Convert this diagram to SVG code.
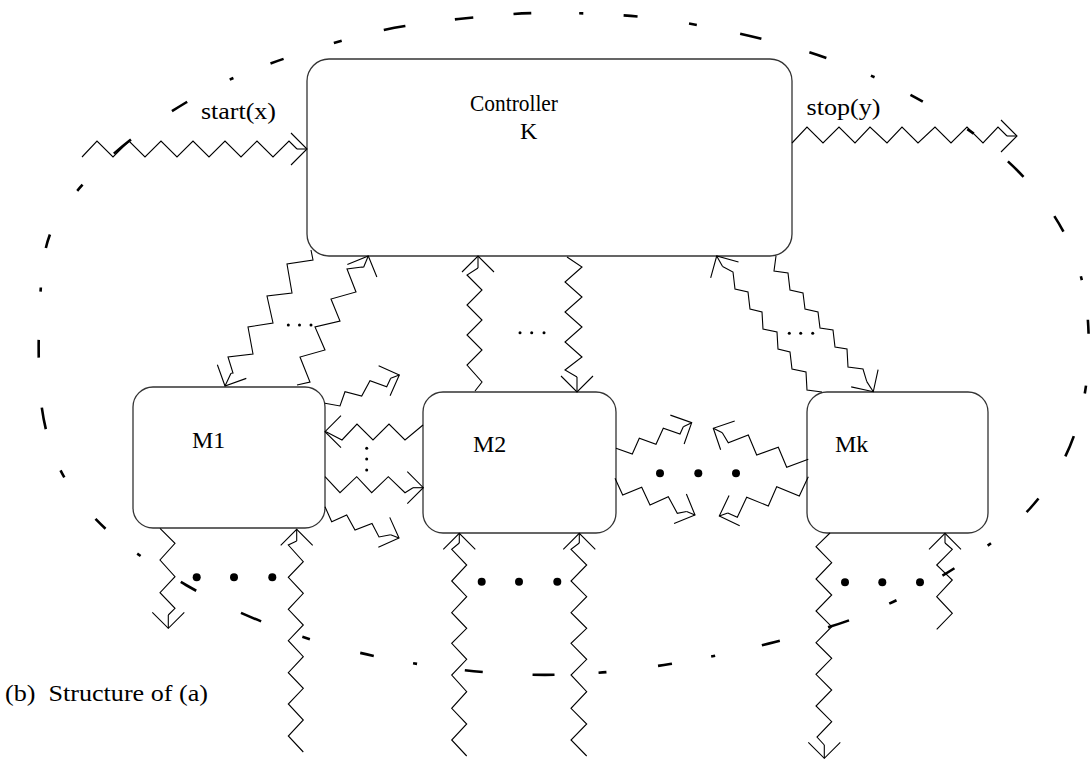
<svg xmlns="http://www.w3.org/2000/svg" width="1090" height="760" viewBox="0 0 1090 760">
<defs>
<style>
.box{fill:#fff;stroke:#333;stroke-width:1.3}
.z{fill:none;stroke:#000;stroke-width:1.1;stroke-linejoin:miter}
.stub{stroke:#000;stroke-width:1.1;marker-end:url(#ah)}
.t{font-family:"Liberation Serif","Times New Roman",serif;font-size:24px;fill:#000}
.bd{fill:#000}
.ell{fill:none;stroke:#000;stroke-width:2.6;stroke-dasharray:18 48 4 40 14 52 8 44 22 50}
</style>
<marker id="ah" viewBox="-20 -20 40 40" markerWidth="40" markerHeight="40" refX="0" refY="0" orient="auto" markerUnits="userSpaceOnUse" overflow="visible">
<path d="M-16,-16 L0,0 L-16,16" fill="none" stroke="#000" stroke-width="1.1"/>
</marker>
</defs>
<rect width="1090" height="760" fill="#fff"/>
<path id="boundary" class="ell" d="M513.5,14 Q540,12 587,13.5 Q634,15 667,20 Q700,25 730,31.5 Q760,38 785,45 Q810,52 836,61.5 Q862,71 890,84.5 Q918,98 948,116.5 Q978,135 1002.5,156.5 Q1027,178 1046,204 Q1065,230 1075,257.5 Q1085,285 1087.5,315 Q1090,345 1087.5,372.5 Q1085,400 1077.5,425 Q1070,450 1057.5,471 Q1045,492 1030,508.5 Q1015,525 1000,536.5 Q985,548 962.5,563 Q940,578 913,592 Q886,606 858,617 Q830,628 775,642 Q720,656 670,664 Q620,672 580,674 Q540,676 502.5,673.5 Q465,671 427.5,665.5 Q390,660 356.5,652 Q323,644 294.5,634 Q266,624 239,612 Q212,600 186,585 Q160,570 130,548.5 Q100,527 80,501 Q60,475 51,447.5 Q42,420 40,390 Q38,360 39,325 Q40,290 43,264 Q46,238 58,217.5 Q70,197 93,173.5 Q116,150 139,133.5 Q162,117 186,102.5 Q210,88 237,76.5 Q264,65 297,54.5 Q330,44 355,37 Q380,30 405,26 Q430,22 458.5,19 Q487,16 513.5,14 Z"/>

<g id="controller">
<rect class="box" x="307" y="59" width="485" height="197" rx="22"/>
<text class="t" x="470" y="111" textLength="88" lengthAdjust="spacingAndGlyphs">Controller</text>
<text class="t" x="520" y="139">K</text>
</g>
<g id="m1">
<rect class="box" x="133" y="387" width="192" height="141" rx="20"/>
<text class="t" x="192" y="448">M1</text>
</g>
<g id="m2">
<rect class="box" x="423" y="392" width="193" height="141" rx="20"/>
<text class="t" x="473" y="452">M2</text>
</g>
<g id="mk">
<rect class="box" x="807" y="392" width="181" height="141" rx="20"/>
<text class="t" x="835" y="452">Mk</text>
</g>

<g id="connectors">
<g id="start">
<polyline class="z" points="82,157 97,141 113,157 129,141 145,157 161,141 177,157 193,141 209,157 225,141 241,157 257,141 273,157 289,141 297,149"/>
<line class="stub" x1="297" y1="149" x2="307" y2="149"/>
</g>
<g id="stop">
<polyline class="z" points="792,143 807,127 823,143 839,127 855,143 870,127 887,143 902,127 918,143 935,127 951,143 967,127 983,143 998,127 1007,136"/>
<line class="stub" x1="1007" y1="136" x2="1017" y2="136"/>
</g>
<g id="k-m1-a">
<polyline class="z" points="311,250 313,260 287,264 292,293 267,296 273,323 248,327 253,354 228,357 233,373 231,373.3"/>
<line class="stub" x1="231" y1="373.3" x2="225" y2="386"/>
</g>
<g id="m1-k-a">
<polyline class="z" points="297,385 310,382 300,357 325,350 315,327 340,321 331,299 356,292 347,269 362,267 363.6,267.2"/>
<line class="stub" x1="363.6" y1="267.2" x2="368.3" y2="256"/>
</g>
<g id="m2-k">
<polyline class="z" points="475,391 482,382 467,365 482,350 467,335 482,320 467,305 482,290 467,275 478,268"/>
<line class="stub" x1="478" y1="268" x2="478" y2="256"/>
</g>
<g id="k-m2">
<polyline class="z" points="567,257 582,267 565,282 582,297 565,312 582,327 565,342 582,357 565,370 577,377"/>
<line class="stub" x1="577" y1="377" x2="577" y2="392"/>
</g>
<g id="mk-k">
<polyline class="z" points="822,392 807,390 806,372 792,369 790,352 778,349 777,332 763,329 762,312 750,309 748,292 735,289 733,272 722.6,266.4"/>
<line class="stub" x1="722.6" y1="266.4" x2="716.7" y2="256"/>
</g>
<g id="k-mk">
<polyline class="z" points="776,256 774,271 788,273 790,290 803,293 805,309 818,312 820,328 833,330 835,347 847,349 848,367 863,369 866.8,381.6"/>
<line class="stub" x1="866.8" y1="381.6" x2="873.3" y2="391.7"/>
</g>
<g id="m2-m1">
<polyline class="z" points="423,425 405,440 389,424 373,440 357,424 342,440 326,431.7"/>
<line class="stub" x1="326" y1="431.7" x2="325" y2="431.7"/>
</g>
<g id="m1-m2">
<polyline class="z" points="325,476.7 340,492.7 356.7,476.7 371.7,492.7 388.3,476.7 405,492.7 413,487.7"/>
<line class="stub" x1="413" y1="487.7" x2="423.3" y2="487.7"/>
</g>
<g id="m1-out-up">
<polyline class="z" points="325,403.3 340,406 345,391.7 361.7,396 370,380.7 386.7,386.7 390.7,378.3"/>
<line class="stub" x1="390.7" y1="378.3" x2="399.3" y2="375"/>
</g>
<g id="m1-out-down">
<polyline class="z" points="325,506.7 331.7,521.7 346.7,515 355,530 372,523.5 379,537 390.6,534.8"/>
<line class="stub" x1="390.6" y1="534.8" x2="399" y2="538"/>
</g>
<g id="m2-out-up">
<polyline class="z" points="616,448.3 632.3,454 639.3,438.3 656,444.3 663.3,428.3 680,434 683.3,426.7"/>
<line class="stub" x1="683.3" y1="426.7" x2="691.7" y2="422.7"/>
</g>
<g id="m2-out-down">
<polyline class="z" points="615,478.3 622.7,495 641.7,487.3 650,505 668.3,496.7 677.3,513.3 686.6,511.5"/>
<line class="stub" x1="686.6" y1="511.5" x2="695" y2="515"/>
</g>
<g id="mk-out-up">
<polyline class="z" points="808.3,459.3 786.7,467.3 778.3,447.3 756.7,455 748.3,435 728.3,442.7 722.3,432.7"/>
<line class="stub" x1="722.3" y1="432.7" x2="713.3" y2="428.3"/>
</g>
<g id="mk-out-down">
<polyline class="z" points="808.3,476.7 799.3,496 776.7,486.7 768.3,506 746.7,497.3 737.3,517.3 727.8,513"/>
<line class="stub" x1="727.8" y1="513" x2="719.3" y2="516"/>
</g>
<g id="m1-down">
<polyline class="z" points="160,528.3 175,543.3 160,560 175,576.7 160,592.7 175,608.3 168.3,615"/>
<line class="stub" x1="168.3" y1="615" x2="168.3" y2="628.3"/>
</g>
<g id="in-m1">
<polyline class="z" points="303.3,752 288.3,736 303.3,720 288.3,704 303.3,688.3 288.3,672.7 303.3,656.7 288.3,640.7 303.3,625 288.3,609.3 303.3,593.3 288.3,577.3 303.3,561.7 288.3,545 296.7,541"/>
<line class="stub" x1="296.7" y1="541" x2="296.7" y2="529.3"/>
</g>
<g id="in-m2-a">
<polyline class="z" points="466.7,756 451.7,740 466.7,724 451.7,708.3 466.7,691.7 451.7,675 466.7,659.3 451.7,643.3 466.7,628.3 451.7,612.7 466.7,596.7 451.7,581 466.7,565 451.7,549.3 459.3,543"/>
<line class="stub" x1="459.3" y1="543" x2="459.3" y2="533.3"/>
</g>
<g id="in-m2-b">
<polyline class="z" points="586.7,756 571,740 586.7,724 571,708.3 586.7,691.7 571,675 586.7,659.3 571,643.3 586.7,628.3 571,612.7 586.7,596.7 571,581 586.7,565 571,549.3 579.3,543"/>
<line class="stub" x1="579.3" y1="543" x2="579.3" y2="533.3"/>
</g>
<g id="mk-down">
<polyline class="z" points="830,533 816,546.7 831.7,562.7 816,579 831.7,595 816,611 831.7,626.7 816,642.7 831.7,658.3 816,674.3 831.7,690 816,706 831.7,721.7 817,737 824.3,745"/>
<line class="stub" x1="824.3" y1="745" x2="824.3" y2="758.3"/>
</g>
<g id="in-mk">
<polyline class="z" points="936.7,629.3 952.3,613.3 936.7,596.7 952.3,580 936.7,565 952.3,549.3 945,543"/>
<line class="stub" x1="945" y1="543" x2="945" y2="533.3"/>
</g>
</g>

<g id="ellipses">
<circle class="bd" cx="288.3" cy="325" r="1.5"/><circle class="bd" cx="299.5" cy="325" r="1.5"/><circle class="bd" cx="311" cy="325" r="1.5"/>
<circle class="bd" cx="520" cy="332.7" r="1.5"/><circle class="bd" cx="531.7" cy="332.7" r="1.5"/><circle class="bd" cx="544" cy="332.7" r="1.5"/>
<circle class="bd" cx="789.3" cy="333.3" r="1.5"/><circle class="bd" cx="800.7" cy="333.3" r="1.5"/><circle class="bd" cx="812.7" cy="333.3" r="1.5"/>
<circle class="bd" cx="366.7" cy="448.3" r="1.5"/><circle class="bd" cx="366.7" cy="459" r="1.5"/><circle class="bd" cx="366.7" cy="470" r="1.5"/>
<circle class="bd" cx="660" cy="473.3" r="4"/><circle class="bd" cx="698.3" cy="473.3" r="4"/><circle class="bd" cx="736" cy="473.3" r="4"/>
<circle class="bd" cx="196.7" cy="577.3" r="4"/><circle class="bd" cx="234" cy="577.3" r="4"/><circle class="bd" cx="272.3" cy="577.3" r="4"/>
<circle class="bd" cx="481.7" cy="581.7" r="4"/><circle class="bd" cx="519" cy="581.7" r="4"/><circle class="bd" cx="557.3" cy="581.7" r="4"/>
<circle class="bd" cx="845" cy="582.3" r="4"/><circle class="bd" cx="882.3" cy="582.3" r="4"/><circle class="bd" cx="920" cy="582.3" r="4"/>
</g>

<g id="labels">
<text class="t" x="201" y="119" textLength="75" lengthAdjust="spacingAndGlyphs">start(x)</text>
<text class="t" x="806.5" y="115" textLength="74" lengthAdjust="spacingAndGlyphs">stop(y)</text>
<text class="t" x="5" y="701" textLength="203" lengthAdjust="spacingAndGlyphs" xml:space="preserve">(b)  Structure of (a)</text>
</g>
</svg>
